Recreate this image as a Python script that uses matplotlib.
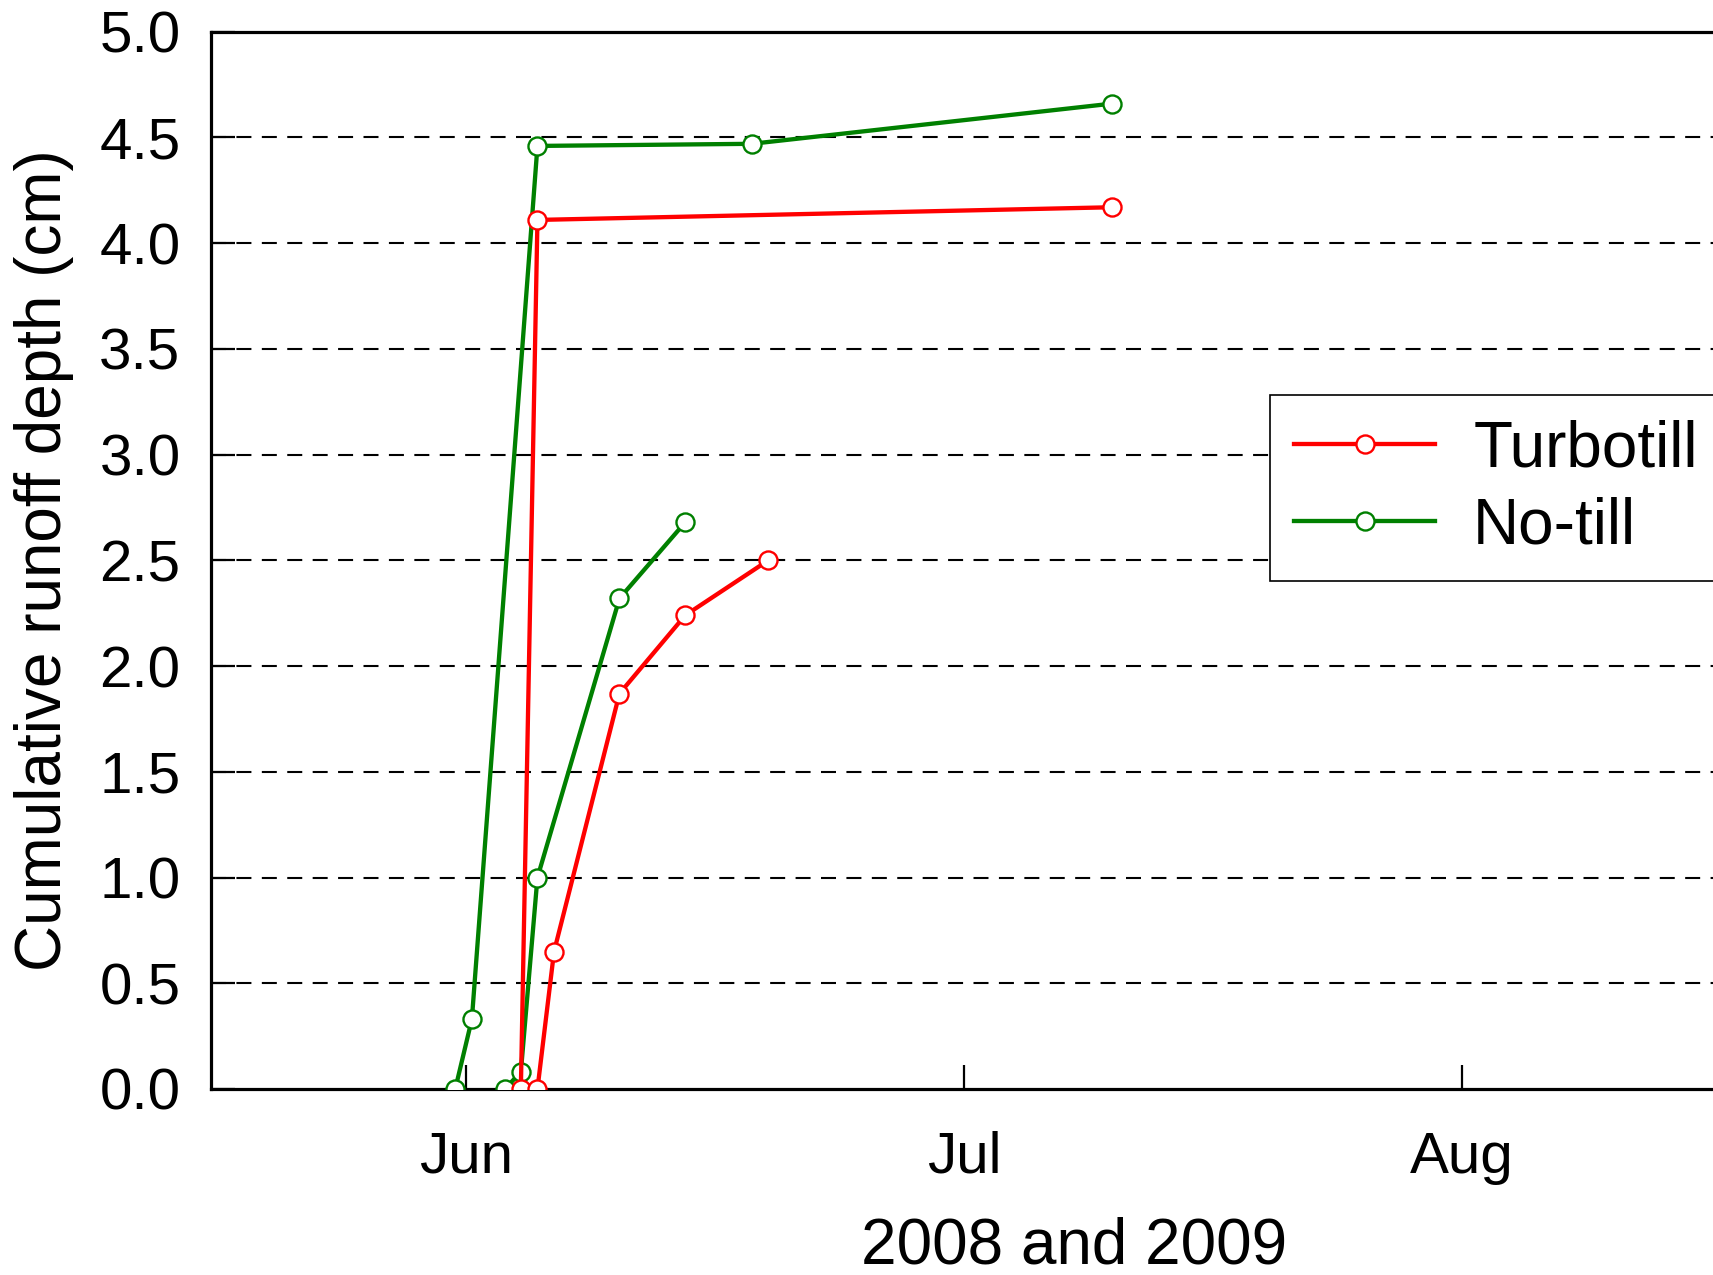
import numpy as np
import matplotlib
matplotlib.use("Agg")
import matplotlib.pyplot as plt

plt.rcParams['font.family'] = ['Liberation Sans', 'DejaVu Sans']

# days after Jun 1 and cumulative runoff (cm)
nt1_day = [-0.65, 0.35, 4.3, 17.2, 38.9]
nt1_runoff = [0.0, 0.33, 4.46, 4.47, 4.66]
tt1_day = [3.3, 4.3, 38.9]
tt1_runoff = [0.0, 4.11, 4.17]
nt2_day = [2.33, 3.3, 4.3, 9.24, 13.2]
nt2_runoff = [0.0, 0.08, 1.0, 2.32, 2.68]
tt2_day = [4.3, 5.3, 9.24, 13.2, 18.2]
tt2_runoff = [0.0, 0.65, 1.87, 2.24, 2.50]

month_ticks = [0, 30, 60]
month_labels = ["Jun", "Jul", "Aug"]
yticks = np.arange(0, 5.01, 0.5)

fig = plt.figure(figsize=(17.13, 12.75), dpi=100)
ax = fig.add_axes([0.1232, 0.1459, 1.0076, 0.8292])

for y in yticks[1:-1]:
    ax.axhline(y, color="black", lw=1.5, dashes=(7.2, 5), zorder=1)

mk = dict(marker="o", markersize=13, markerfacecolor="white", markeredgewidth=1.7, lw=3.1, zorder=3)
ax.plot(nt1_day, nt1_runoff, color="#008000", **mk)
ax.plot(nt2_day, nt2_runoff, color="#008000", **mk)
l1, = ax.plot(tt1_day, tt1_runoff, color="#ff0000", **mk)
ax.plot(tt2_day, tt2_runoff, color="#ff0000", **mk)
l2, = ax.plot([], [], color="#008000", **mk)

ax.set_xlim(-15.36, 88.6)
ax.set_ylim(0, 5)
ax.set_xticks(month_ticks)
ax.set_xticklabels(month_labels)
ax.set_yticks(yticks)
ax.set_yticklabels(["%.1f" % v for v in yticks])
ax.tick_params(axis="both", direction="in", length=17, width=1.6, labelsize=42)
ax.tick_params(axis="x", pad=30)
ax.tick_params(axis="y", pad=22)
for s in ax.spines.values():
    s.set_linewidth(2.3)

ax.set_xlabel("2008 and 2009", fontsize=46, labelpad=23)
ax.set_ylabel("Cumulative runoff depth (cm)", fontsize=46, labelpad=18)

leg = fig.legend([l1, l2], ["Turbotill", "No-till"], loc="upper left",
                 bbox_to_anchor=(1270 / 1713, 1 - 395 / 1275), bbox_transform=fig.transFigure,
                 borderaxespad=0, fontsize=46, numpoints=1, handlelength=2.2, handletextpad=0.6,
                 labelspacing=0.27, borderpad=0.38, fancybox=False, framealpha=1)
leg.get_frame().set_edgecolor("black")
leg.get_frame().set_linewidth(1.2)

fig.savefig("out.png", dpi=100)
